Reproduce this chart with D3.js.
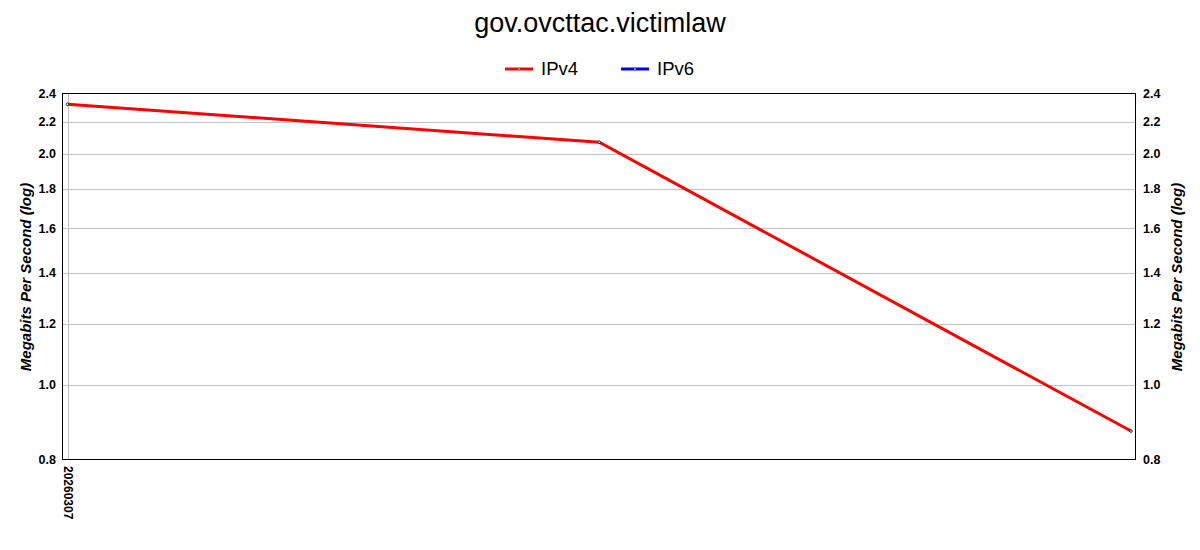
<!DOCTYPE html>
<html>
<head>
<meta charset="utf-8">
<script src="https://cdn.jsdelivr.net/npm/d3@7"></script>
<style>
  body { margin: 0; background: #fff; }
  #chart { width: 1200px; height: 550px; }
  text { font-family: "Liberation Sans", Arial, sans-serif; }
</style>
</head>
<body>
<div id="chart"></div>
<script>
var chartTitle = "gov.ovcttac.victimlaw";
var dates = ["20260307", "", ""];
var ipv4 = [2.32, 2.07, 0.87];
var ipv6 = [];
var yTicks = [0.8, 1.0, 1.2, 1.4, 1.6, 1.8, 2.0, 2.2, 2.4];
var seriesNames = ["IPv4", "IPv6"];
var seriesColors = ["#ff0000", "#0000ff"];

var width = 1200, height = 550;
var plotLeft = 62, plotRight = 1135, plotTop = 93, plotBottom = 459;

var svg = d3.select("#chart")
    .append("svg")
    .attr("width", width)
    .attr("height", height);

var x = d3.scaleLinear()
    .domain([0, dates.length - 1])
    .range([67.5, 1131]);

var y = d3.scaleLog()
    .domain([0.8, 2.4])
    .range([plotBottom, plotTop]);

// gridlines
svg.selectAll("line.grid")
    .data(yTicks)
    .enter()
    .append("line")
        .attr("class", "grid")
        .attr("x1", plotLeft)
        .attr("x2", plotRight)
        .attr("y1", function(d) { return Math.round(y(d)) + 0.5; })
        .attr("y2", function(d) { return Math.round(y(d)) + 0.5; })
        .attr("stroke", "#c0c0c0")
        .attr("stroke-width", 1);

svg.selectAll("line.vgrid")
    .data(dates.filter(function(d) { return d !== ""; }))
    .enter()
    .append("line")
        .attr("class", "vgrid")
        .attr("x1", function(d) { return Math.round(x(dates.indexOf(d))) + 0.5; })
        .attr("x2", function(d) { return Math.round(x(dates.indexOf(d))) + 0.5; })
        .attr("y1", plotTop)
        .attr("y2", plotBottom)
        .attr("stroke", "#c0c0c0");

// frame
svg.append("rect")
    .attr("x", plotLeft + 0.5)
    .attr("y", plotTop + 0.5)
    .attr("width", plotRight - plotLeft)
    .attr("height", plotBottom - plotTop)
    .attr("fill", "none")
    .attr("stroke", "#000");

// axes
var leftAxis = d3.axisLeft(y).tickValues(yTicks).tickFormat(d3.format(".1f")).tickSize(0).tickPadding(6);
var rightAxis = d3.axisRight(y).tickValues(yTicks).tickFormat(d3.format(".1f")).tickSize(0).tickPadding(8);

var gl = svg.append("g").attr("transform", "translate(" + plotLeft + ",0)").call(leftAxis);
var gr = svg.append("g").attr("transform", "translate(" + plotRight + ",0)").call(rightAxis);
[gl, gr].forEach(function(g) {
    g.select(".domain").remove();
    g.selectAll("text")
        .attr("font-size", 12.5)
        .attr("font-weight", "bold")
        .attr("fill", "#000")
        .style("font-family", "'Liberation Sans', Arial, sans-serif");
});

// x labels
svg.selectAll("text.xlab")
    .data(dates)
    .enter()
    .append("text")
        .attr("class", "xlab")
        .attr("transform", function(d, i) { return "translate(" + (x(i) - 4) + "," + 466 + ") rotate(90)"; })
        .attr("font-size", 12)
        .attr("font-weight", "bold")
        .attr("text-anchor", "start")
        .text(function(d) { return d; });

// axis titles
svg.append("text")
    .attr("transform", "translate(31," + ((plotTop + plotBottom) / 2 + 1) + ") rotate(-90)")
    .attr("text-anchor", "middle")
    .attr("font-size", 15)
    .attr("font-weight", "bold")
    .attr("font-style", "italic")
    .text("Megabits Per Second (log)");

svg.append("text")
    .attr("transform", "translate(1182," + ((plotTop + plotBottom) / 2 + 1) + ") rotate(-90)")
    .attr("text-anchor", "middle")
    .attr("font-size", 15)
    .attr("font-weight", "bold")
    .attr("font-style", "italic")
    .text("Megabits Per Second (log)");

// title
svg.append("text")
    .attr("x", width / 2)
    .attr("y", 32)
    .attr("text-anchor", "middle")
    .attr("font-size", 27)
    .text(chartTitle);

// legend
var legendX = [505, 621];
seriesNames.forEach(function(name, i) {
    svg.append("line")
        .attr("x1", legendX[i])
        .attr("x2", legendX[i] + 28)
        .attr("y1", 69)
        .attr("y2", 69)
        .attr("stroke", seriesColors[i])
        .attr("stroke-width", 3);
    svg.append("circle")
        .attr("cx", legendX[i] + 14)
        .attr("cy", 69)
        .attr("r", 1)
        .attr("fill", "#fff")
        .attr("stroke", "#333")
        .attr("stroke-width", 0.5);
    svg.append("text")
        .attr("x", legendX[i] + 36)
        .attr("y", 75)
        .attr("font-size", 18.5)
        .text(name);
});

// lines
var line = d3.line()
    .x(function(d, i) { return x(i); })
    .y(function(d) { return y(d); });

[ipv4, ipv6].forEach(function(series, s) {
    if (!series.length) return;
    svg.append("path")
        .datum(series)
        .attr("fill", "none")
        .attr("stroke", seriesColors[s])
        .attr("stroke-width", 3)
        .attr("d", line);
    svg.selectAll("circle.pt" + s)
        .data(series)
        .enter()
        .append("circle")
            .attr("class", "pt" + s)
            .attr("cx", function(d, i) { return x(i); })
            .attr("cy", function(d) { return y(d); })
            .attr("r", 1.3)
            .attr("fill", "#fff")
            .attr("stroke", "#000")
            .attr("stroke-width", 0.8);
});
</script>
</body>
</html>
